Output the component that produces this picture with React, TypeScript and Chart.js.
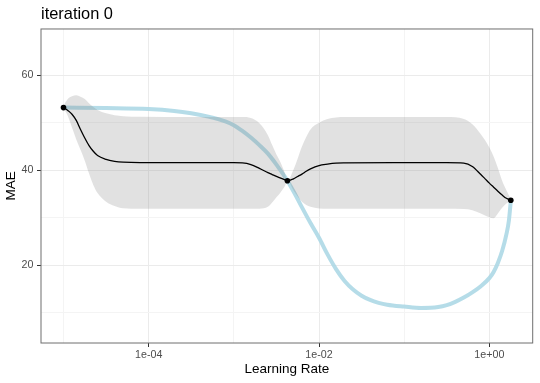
import React, { useEffect, useRef } from 'react';
import { Chart, registerables } from 'chart.js';
Chart.register(...registerables);

// Observed points (log10 learning rate, MAE)
const pointLog = [-5.0, -2.371, 0.252];
const pointMAE = [53.2, 37.8, 33.7];

// GP posterior (log10 learning rate grid)
const gpLog = [-5.0, -4.95, -4.9, -4.85, -4.8, -4.75, -4.7, -4.65, -4.6, -4.5, -4.4, -4.3, -4.1, -3.5, -3.0, -2.9, -2.8, -2.7, -2.6, -2.55, -2.5, -2.45, -2.4, -2.371, -2.3, -2.25, -2.2, -2.15, -2.1, -2.0, -1.9, -1.8, -1.7, -1.0, -0.5, -0.3, -0.2, -0.1, -0.05, 0.0, 0.05, 0.1, 0.15, 0.2, 0.252];
const gpMean = [53.2, 52.6, 51.8, 50.5, 48.6, 46.8, 45.2, 44.0, 43.1, 42.3, 41.9, 41.7, 41.6, 41.6, 41.6, 41.55, 41.2, 40.4, 39.5, 39.1, 38.7, 38.35, 38.0, 37.8, 38.2, 38.7, 39.2, 39.8, 40.3, 41.0, 41.3, 41.5, 41.55, 41.6, 41.6, 41.5, 40.8, 39.1, 38.2, 37.3, 36.45, 35.6, 34.8, 34.1, 33.7];
const gpUpper = [53.6, 55.0, 55.6, 55.8, 55.5, 55.0, 54.1, 53.3, 52.7, 52.0, 51.6, 51.4, 51.25, 51.2, 51.2, 51.2, 51.0, 49.9, 47.4, 45.3, 43.3, 41.6, 39.4, 37.8, 40.1, 42.5, 45.0, 47.0, 48.6, 50.0, 50.8, 51.1, 51.2, 51.2, 51.2, 50.8, 49.7, 47.6, 46.3, 44.8, 42.9, 40.5, 37.8, 35.8, 33.9];
const gpLower = [53.0, 51.5, 49.0, 46.5, 44.3, 42.0, 39.3, 36.9, 35.2, 33.4, 32.5, 32.0, 31.9, 31.9, 31.9, 31.9, 31.9, 31.9, 32.3, 33.2, 34.3, 35.4, 36.7, 37.8, 35.8, 34.5, 33.4, 32.7, 32.3, 31.95, 31.9, 31.9, 31.9, 31.9, 31.9, 31.85, 31.6, 30.9, 30.5, 30.1, 29.9, 30.9, 32.1, 33.0, 33.6];

// True objective (light blue)
const trueLog = [-5.0, -4.5, -4.0, -3.7, -3.5, -3.3, -3.1, -3.0, -2.9, -2.8, -2.7, -2.6, -2.5, -2.4, -2.3, -2.2, -2.1, -2.0, -1.9, -1.8, -1.7, -1.6, -1.5, -1.4, -1.3, -1.2, -1.0, -0.8, -0.6, -0.5, -0.4, -0.3, -0.2, -0.1, 0.0, 0.05, 0.1, 0.15, 0.2, 0.23, 0.252];
const trueMAE = [53.2, 53.1, 52.9, 52.5, 52.0, 51.3, 50.3, 49.5, 48.3, 46.9, 45.3, 43.5, 41.2, 38.6, 35.6, 32.2, 28.9, 25.8, 22.3, 19.2, 16.7, 14.9, 13.6, 12.7, 12.1, 11.7, 11.3, 11.0, 11.2, 11.6, 12.3, 13.2, 14.3, 15.6, 17.3, 18.6, 20.5, 23.0, 26.5, 29.5, 33.6];

// Axes
const xTickExponents = [-5, -4, -3, -2, -1, 0];
const xLabeledExponents = [-4, -2, 0];
const yTicks = [10, 20, 30, 40, 50, 60];
const yLabeled = [20, 40, 60];
const X_MIN = Math.pow(10, -5.264);
const X_MAX = Math.pow(10, 0.509);
const Y_MIN = 3.64;
const Y_MAX = 69.75;

const FONT = "'Liberation Sans', Arial, Helvetica, sans-serif";

const toXY = (logs: number[], vals: number[]) =>
  logs.map((l, i) => ({ x: Math.pow(10, l), y: vals[i] }));

const fmtExp = (e: number) =>
  '1e' + (e < 0 ? '-' : '+') + String(Math.abs(e)).padStart(2, '0');

const isMajorX = (v: number) => xLabeledExponents.includes(Math.round(Math.log10(v)));
const isMajorY = (v: number) => yLabeled.includes(v);

const panelBorder = {
  id: 'panelBorder',
  afterDraw(chart: any) {
    const { ctx, chartArea: a } = chart;
    ctx.save();
    ctx.strokeStyle = '#6e6e6e';
    ctx.lineWidth = 1;
    ctx.strokeRect(a.left, a.top, a.right - a.left, a.bottom - a.top);
    ctx.restore();
  },
};

export default function App() {
  const ref = useRef<HTMLCanvasElement | null>(null);
  useEffect(() => {
    if (!ref.current) return;
    const chart = new Chart(ref.current, {
      type: 'line',
      data: {
        datasets: [
          {
            label: 'observed',
            data: toXY(pointLog, pointMAE),
            showLine: false,
            pointRadius: 2.8,
            pointBackgroundColor: '#000',
            pointBorderWidth: 0,
            order: 0,
          },
          {
            label: 'mean',
            data: toXY(gpLog, gpMean),
            borderColor: '#000',
            borderWidth: 1.3,
            pointRadius: 0,
            cubicInterpolationMode: 'monotone',
            fill: false,
            order: 1,
          },
          {
            label: 'upper',
            data: toXY(gpLog, gpUpper),
            borderWidth: 0,
            borderColor: 'rgba(0,0,0,0)',
            pointRadius: 0,
            cubicInterpolationMode: 'monotone',
            fill: { target: 3, above: 'rgba(128,128,128,0.24)', below: 'rgba(128,128,128,0.24)' },
            backgroundColor: 'rgba(128,128,128,0.24)',
            order: 2,
          },
          {
            label: 'lower',
            data: toXY(gpLog, gpLower),
            borderWidth: 0,
            borderColor: 'rgba(0,0,0,0)',
            pointRadius: 0,
            cubicInterpolationMode: 'monotone',
            fill: false,
            order: 3,
          },
          {
            label: 'true',
            data: toXY(trueLog, trueMAE),
            borderColor: 'rgba(173,216,230,0.9)',
            borderWidth: 4,
            borderCapStyle: 'round',
            borderJoinStyle: 'round',
            pointRadius: 0,
            cubicInterpolationMode: 'monotone',
            fill: false,
            order: 4,
          },
        ] as any,
      },
      options: {
        animation: false,
        responsive: true,
        maintainAspectRatio: false,
        layout: { padding: { left: 0, right: 7.3, top: 0, bottom: 0 } },
        plugins: {
          legend: { display: false },
          tooltip: { enabled: false },
          title: {
            display: true,
            text: 'iteration 0',
            align: 'start',
            fullSize: false,
            color: '#000',
            font: { family: FONT, size: 16.4, weight: 'normal' },
            padding: { top: 4.5, bottom: 4.8 },
          },
        },
        scales: {
          x: {
            type: 'logarithmic',
            min: X_MIN,
            max: X_MAX,
            afterBuildTicks: (s: any) => {
              s.ticks = xTickExponents.map((e) => ({ value: Math.pow(10, e) }));
            },
            afterFit: (s: any) => {
              s.height = 40;
            },
            ticks: {
              autoSkip: false,
              maxRotation: 0,
              padding: 2,
              color: '#4d4d4d',
              font: { family: FONT, size: 10.7 },
              callback: (v: any) => {
                const e = Math.round(Math.log10(Number(v)));
                return xLabeledExponents.includes(e) ? fmtExp(e) : '';
              },
            },
            grid: {
              color: (c: any) => (c.tick && isMajorX(c.tick.value) ? '#ebebeb' : '#f4f4f4'),
              lineWidth: 1,
              drawTicks: true,
              tickLength: 4,
              tickColor: (c: any) => (c.tick && isMajorX(c.tick.value) ? '#333333' : 'rgba(0,0,0,0)'),
            },
            border: { display: false },
            title: {
              display: true,
              text: 'Learning Rate',
              color: '#000',
              font: { family: FONT, size: 13.5 },
              padding: { top: 0, bottom: 5.3 },
            },
          },
          y: {
            type: 'linear',
            min: Y_MIN,
            max: Y_MAX,
            afterBuildTicks: (s: any) => {
              s.ticks = yTicks.map((v) => ({ value: v }));
            },
            afterFit: (s: any) => {
              s.width = 41;
            },
            ticks: {
              padding: 3.5,
              color: '#4d4d4d',
              font: { family: FONT, size: 10.7 },
              callback: (v: any) => (yLabeled.includes(Number(v)) ? String(v) : ''),
            },
            grid: {
              color: (c: any) => (c.tick && isMajorY(c.tick.value) ? '#ebebeb' : '#f4f4f4'),
              lineWidth: 1,
              drawTicks: true,
              tickLength: 4,
              tickColor: (c: any) => (c.tick && isMajorY(c.tick.value) ? '#333333' : 'rgba(0,0,0,0)'),
            },
            border: { display: false },
            title: {
              display: true,
              text: 'MAE',
              color: '#000',
              font: { family: FONT, size: 13.5 },
              padding: { top: 3, bottom: 0 },
            },
          },
        },
      } as any,
      plugins: [panelBorder],
    });
    return () => chart.destroy();
  }, []);

  return (
    <div style={{ position: 'absolute', left: 0, top: 0, width: 540, height: 383, background: '#fff' }}>
      <canvas ref={ref} />
    </div>
  );
}
